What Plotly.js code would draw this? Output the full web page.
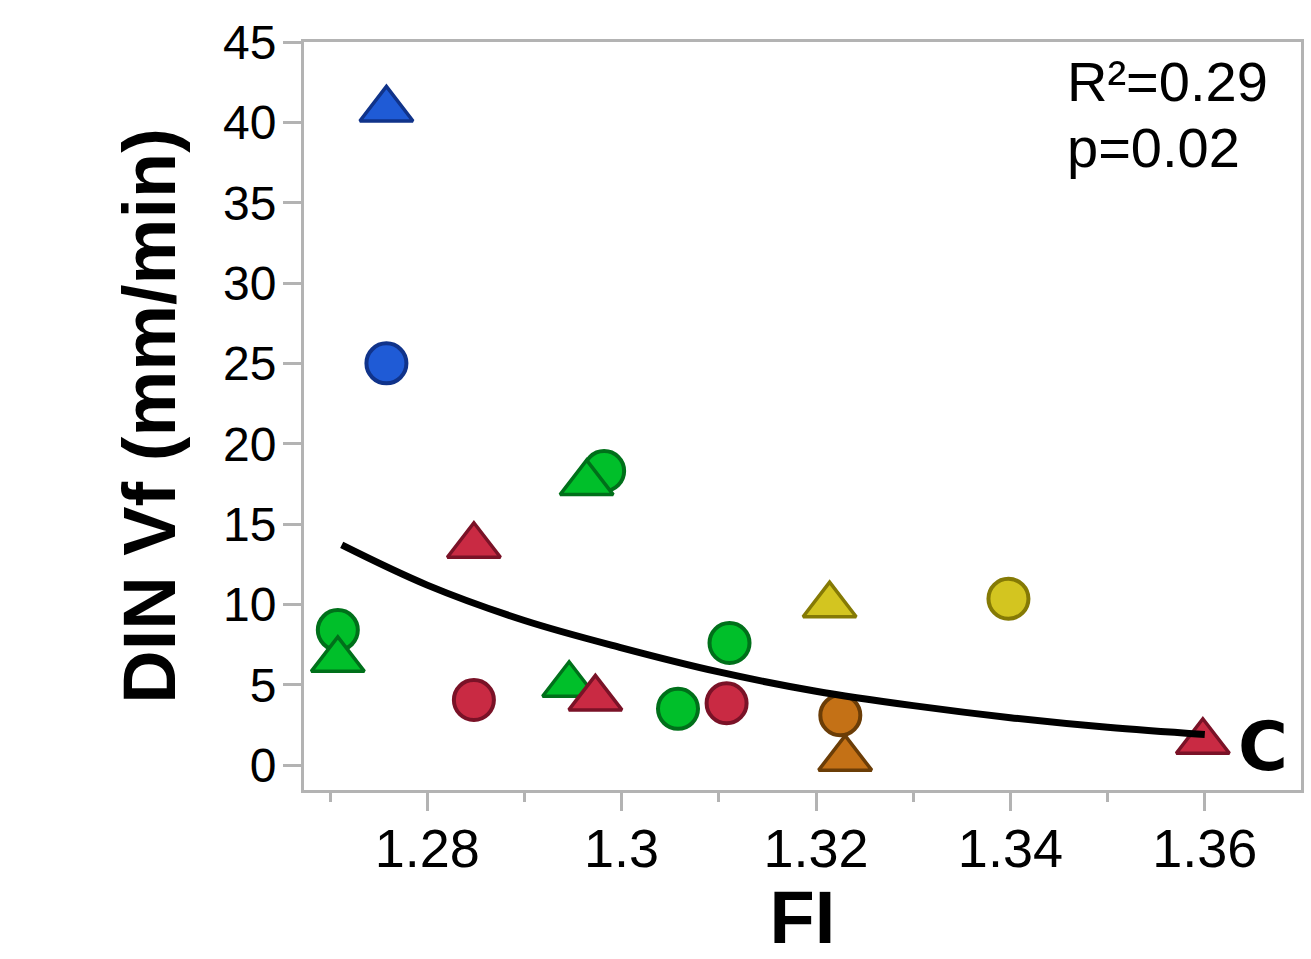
<!DOCTYPE html>
<html><head><meta charset="utf-8">
<script src="https://cdn.plot.ly/plotly-3.0.1.min.js"></script>
<style>html,body{margin:0;padding:0;background:#fff;}</style>
</head><body>
<div id="chart" style="width:1311px;height:959px;"></div>
<script>
// Data
const circleFI    = [1.2758, 1.2982, 1.2708, 1.2848, 1.3058, 1.3108, 1.3111, 1.3398, 1.3225];
const circleDIN   = [25.0, 18.3, 8.4, 4.05, 3.5, 3.85, 7.6, 10.35, 3.1];
const circleGroup = ['blue','green','green','red','green','red','green','yellow','orange'];

const triFI    = [1.2758, 1.2708, 1.2964, 1.2946, 1.2848, 1.2973, 1.3598, 1.3214, 1.3230];
const triDIN   = [40.8, 6.55, 17.55, 5.0, 13.65, 4.15, 1.45, 9.95, 0.4];
const triGroup = ['blue','green','green','green','red','red','red','yellow','orange'];

const fitFI  = [1.2712, 1.28, 1.29, 1.30, 1.31, 1.32, 1.33, 1.34, 1.35, 1.36];
const fitDIN = [13.7, 11.2, 9.0, 7.3, 5.8, 4.6, 3.7, 2.95, 2.35, 1.9];

const xTickVals = [1.28, 1.3, 1.32, 1.34, 1.36];
const xTickText = ['1.28', '1.3', '1.32', '1.34', '1.36'];
const yTickVals = [0, 5, 10, 15, 20, 25, 30, 35, 40, 45];
const yTickText = ['0', '5', '10', '15', '20', '25', '30', '35', '40', '45'];

const statLines = ['R²=0.29', 'p=0.02'];
const panelLabel = 'C';
const xTitle = 'FI';
const yTitle = 'DIN Vf (mm/min)';

const fillColors = {blue:'#1f5bd6', green:'#00bf2a', red:'#c92a43', yellow:'#d3c520', orange:'#c47116'};
const edgeColors = {blue:'#10338a', green:'#00701a', red:'#7a1227', yellow:'#857a05', orange:'#6b3d07'};

const axisGray = '#b3b3b3';
const tickFont = 'Liberation Sans, Arial, Helvetica, sans-serif';

const traces = [
  {
    type: 'scatter', mode: 'markers', x: circleFI, y: circleDIN, hoverinfo: 'skip',
    marker: {
      symbol: 'circle', size: 40,
      color: circleGroup.map(g => fillColors[g]),
      line: {width: 4, color: circleGroup.map(g => edgeColors[g])}
    }
  },
  {
    type: 'scatter', mode: 'markers', x: triFI, y: triDIN, hoverinfo: 'skip',
    marker: {
      symbol: 'triangle-up', size: 46,
      color: triGroup.map(g => fillColors[g]),
      line: {width: 3.5, color: triGroup.map(g => edgeColors[g])}
    }
  },
  {
    type: 'scatter', mode: 'lines', x: fitFI, y: fitDIN, hoverinfo: 'skip',
    line: {color: '#000', width: 7, shape: 'spline', smoothing: 1}
  }
];

const layout = {
  width: 1311, height: 959,
  margin: {l: 304, r: 10, t: 42, b: 169},
  paper_bgcolor: '#fff', plot_bgcolor: '#fff',
  showlegend: false,
  xaxis: {
    range: [1.26732, 1.3699],
    tickmode: 'array', tickvals: xTickVals, ticktext: xTickText,
    ticks: 'outside', ticklen: 18, tickwidth: 3, tickcolor: axisGray,
    minor: {dtick: 0.01, tick0: 1.27, ticks: 'outside', ticklen: 9, tickwidth: 3, tickcolor: axisGray, showgrid: false},
    showline: true, linecolor: axisGray, linewidth: 3, mirror: true,
    showgrid: false, zeroline: false,
    tickfont: {family: tickFont, size: 54, color: '#000'},
    ticklabelstandoff: -9,
    title: {text: xTitle, standoff: 34, font: {family: tickFont, size: 74, weight: 'bold', color: '#000'}},
    automargin: false, fixedrange: true
  },
  yaxis: {
    range: [-1.55, 45],
    tickmode: 'array', tickvals: yTickVals, ticktext: yTickText,
    ticks: 'outside', ticklen: 18, tickwidth: 3, tickcolor: axisGray,
    showline: true, linecolor: axisGray, linewidth: 3, mirror: true,
    showgrid: false, zeroline: false,
    tickfont: {family: tickFont, size: 48, color: '#000'},
    ticklabelstandoff: -3,
    title: {text: yTitle, standoff: 24, font: {family: tickFont, size: 74, weight: 'bold', color: '#000'}},
    automargin: false, fixedrange: true
  },
  annotations: [
    {xref: 'paper', yref: 'paper', x: 0.763, y: 0.947, xanchor: 'left', yanchor: 'middle',
     text: statLines[0], showarrow: false, font: {family: tickFont, size: 56, color: '#000'}},
    {xref: 'paper', yref: 'paper', x: 0.763, y: 0.859, xanchor: 'left', yanchor: 'middle',
     text: statLines[1], showarrow: false, font: {family: tickFont, size: 56, color: '#000'}},
    {xref: 'paper', yref: 'paper', x: 0.962, y: 0.058, xanchor: 'center', yanchor: 'middle',
     text: panelLabel, showarrow: false, font: {family: 'DejaVu Sans, sans-serif', size: 68, weight: 'bold', color: '#000'}}
  ]
};

Plotly.newPlot('chart', traces, layout, {staticPlot: true, displayModeBar: false});
</script>
</body></html>
